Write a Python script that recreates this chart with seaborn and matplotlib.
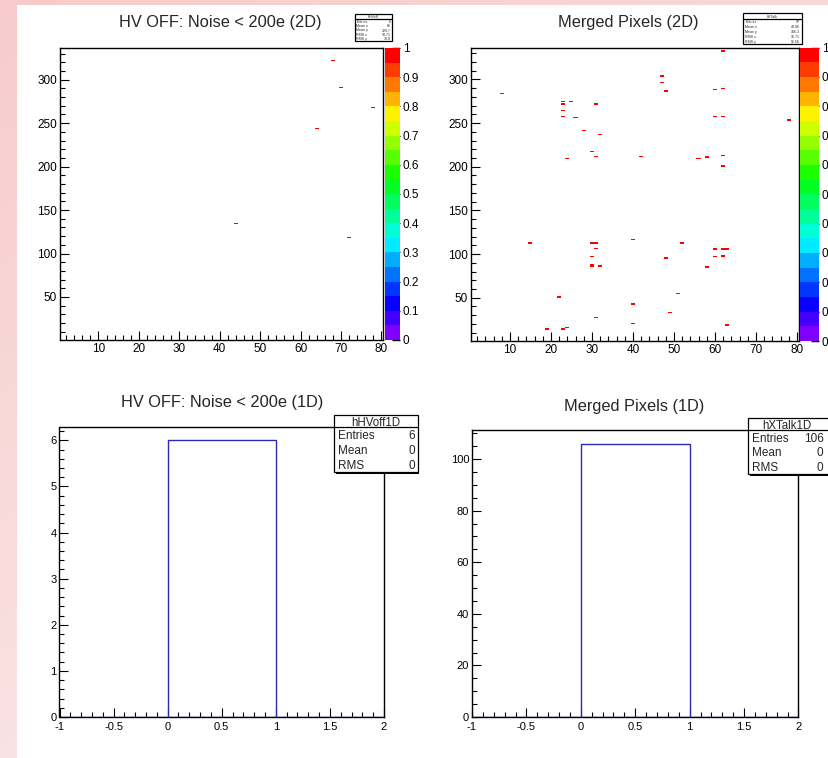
import numpy as np
import matplotlib
matplotlib.use("Agg")
import matplotlib.pyplot as plt
from matplotlib.colors import ListedColormap, hsv_to_rgb
from matplotlib.patches import Rectangle
from matplotlib.ticker import MultipleLocator, FuncFormatter
import seaborn as sns

# ---------------------------------------------------------------- data
# Sensor matrix: 80 columns x 336 rows
N_COLS = 80
N_ROWS = 336

# HV OFF: pixels with noise < 200 e
hv_cols = [68, 70, 78, 64, 44, 72]
hv_rows = [322, 291, 268, 244, 135, 118]

# Merged pixels found by the cross-talk scan
xtalk_cols = [
    8, 23, 25, 23, 23, 31, 31, 23, 23, 23, 23, 26, 26,
    28, 31, 32, 30, 31, 24, 24, 40, 42,
    15, 15, 30, 30, 31, 31, 31, 30, 30, 30, 30, 30, 32, 32,
    22, 22, 40, 40, 31, 40, 19, 19, 23, 23, 24,
    62, 62, 47, 47, 47, 47, 62, 48, 48, 60, 62, 62,
    60, 60, 62, 62, 78, 78, 56, 56, 58, 58, 58, 62, 62, 62, 40,
    52, 52, 60, 60, 62, 62, 63, 63, 52, 60, 60, 62, 62, 48, 48,
    58, 58, 62, 51, 51, 49, 63, 63,
]
xtalk_rows = [
    284, 275, 275, 271, 272, 271, 272, 264, 265, 257, 258, 256, 257,
    241, 234, 237, 217, 212, 209, 210, 289, 212,
    112, 113, 112, 113, 112, 113, 106, 97, 99, 86, 87, 88, 86, 87,
    50, 51, 42, 43, 27, 21, 14, 15, 14, 15, 16,
    332, 333, 303, 304, 296, 297, 297, 286, 287, 288, 289, 290,
    257, 258, 257, 258, 253, 254, 209, 210, 210, 211, 212, 213, 200, 201, 117,
    112, 113, 105, 106, 105, 106, 105, 106, 99, 97, 99, 97, 98, 95, 96,
    85, 86, 84, 55, 36, 33, 18, 19,
]

# 1D summary histograms: every flagged pixel is filled at x = 0
fill_value = [0.0]
hv_1d_entries = [6]
xtalk_1d_entries = [106]
bins_1d = [-1, 0, 1, 2]

colorbar_ticks = [0, 0.1, 0.2, 0.3, 0.4, 0.5, 0.6, 0.7, 0.8, 0.9, 1]

# ---------------------------------------------------------------- style
W, H, DPI = 829, 758, 100
sns.set_style("ticks")
plt.rcParams["font.family"] = ["Liberation Sans", "DejaVu Sans"]
plt.rcParams["axes.linewidth"] = 1.0

fig = plt.figure(figsize=(W / DPI, H / DPI), dpi=DPI)


def px_axes(x0, y0, x1, y1, **kw):
    """Axes placed by pixel box (left, top, right, bottom)."""
    return fig.add_axes([x0 / W, 1 - y1 / H, (x1 - x0) / W, (y1 - y0) / H], **kw)


# canvas background: soft pink border around the white drawing area
bg = fig.add_axes([0, 0, 1, 1], zorder=-10)
xx, yy = np.meshgrid(np.linspace(0, 1, W), np.linspace(0, 1, H))
a = np.clip(0.25 * xx + 0.45 * yy, 0, 1)[..., None]
pink = np.array([247, 203, 203]) / 255.0
bg.imshow(pink[None, None, :] * (1 - a) + a, extent=[0, W, H, 0], aspect="auto")
bg.add_patch(Rectangle((17, 5), W - 17, H - 5, facecolor="white", edgecolor="none"))
bg.set_xlim(0, W)
bg.set_ylim(H, 0)
bg.axis("off")

# overlay for statistics boxes
ov = fig.add_axes([0, 0, 1, 1], zorder=10)
ov.set_xlim(0, W)
ov.set_ylim(H, 0)
ov.axis("off")

# 20-level rainbow palette (violet -> red)
hues = 0.75 * (1 - np.arange(20) / 19)
palette = ListedColormap(hsv_to_rgb(np.stack([hues, np.ones(20), np.ones(20)], axis=1)))

fmt = FuncFormatter(lambda v, _: f"{v:g}")
hist_blue = "#2a2ab4"


def style_axes(ax, labelsize, xpad=2):
    for s in ax.spines.values():
        s.set_visible(True)
        s.set_color("black")
        s.set_linewidth(1.0)
    ax.tick_params(which="both", direction="in", top=False, right=False,
                   colors="black", labelsize=labelsize, width=0.8, pad=2)
    ax.tick_params(axis="x", pad=xpad)
    ax.tick_params(which="major", length=6.5)
    ax.tick_params(which="minor", length=3.6)
    ax.xaxis.set_major_formatter(fmt)
    ax.yaxis.set_major_formatter(fmt)
    ax.set_xlabel("")
    ax.set_ylabel("")


def stats_box(x0, y0, x1, y1, header_h, name, rows, fs, shadow=1.5, name_x=None,
              name_fs=None):
    ov.add_patch(Rectangle((x0 + shadow, y0 + shadow), x1 - x0, y1 - y0,
                           facecolor="black", edgecolor="none"))
    ov.add_patch(Rectangle((x0, y0), x1 - x0, y1 - y0, facecolor="white",
                           edgecolor="black", linewidth=0.9))
    nx = (x0 + x1) / 2 if name_x is None else name_x
    ov.text(nx, y0 + header_h / 2 + 0.5, name, ha="center", va="center_baseline",
            fontsize=name_fs or fs)
    ov.plot([x0, x1], [y0 + header_h, y0 + header_h], color="black", lw=0.9)
    rh = (y1 - y0 - header_h) / len(rows)
    pad = (x1 - x0) * 0.04
    for i, (k, v) in enumerate(rows):
        yc = y0 + header_h + rh * (i + 0.5)
        ov.text(x0 + pad, yc, k, ha="left", va="center_baseline", fontsize=fs)
        ov.text(min(x1, W - 2) - pad, yc, v, ha="right", va="center_baseline",
                fontsize=fs)


def stats_2d(cols, rows):
    c = np.asarray(cols, float)
    r = np.asarray(rows, float)
    return [("Entries", f"{len(c)}"), ("Mean x", f"{c.mean():.4g}"),
            ("Mean y", f"{r.mean():.4g}"), ("RMS x", f"{c.std():.4g}"),
            ("RMS y", f"{r.std():.4g}")]


def panel_2d(box, cbox, cols, rows):
    ax = px_axes(*box)
    cax = px_axes(*cbox)
    sns.histplot(x=cols, y=rows,
                 bins=[np.arange(0.5, N_COLS + 1), np.arange(0.5, N_ROWS + 1)],
                 cmap=palette, vmin=0, vmax=1, cbar=True, cbar_ax=cax, ax=ax,
                 antialiased=True)
    ax.set_xlim(0.5, N_COLS + 0.5)
    ax.set_ylim(0.5, N_ROWS + 0.5)
    ax.xaxis.set_major_locator(MultipleLocator(10))
    ax.xaxis.set_minor_locator(MultipleLocator(2))
    ax.yaxis.set_major_locator(MultipleLocator(50))
    ax.yaxis.set_minor_locator(MultipleLocator(10))
    style_axes(ax, 8.5)
    cb = ax.collections[0].colorbar
    cb.outline.set_visible(False)
    cax.set_yticks(colorbar_ticks)
    cax.yaxis.set_major_formatter(fmt)
    cax.yaxis.set_minor_locator(plt.NullLocator())
    cax.tick_params(axis="y", direction="in", length=6, width=1, colors="black",
                    labelsize=8.5, right=True, left=False, labelright=True, pad=2)
    return ax


def panel_1d(box, entries, ymajor, yminor):
    ax = px_axes(*box)
    sns.histplot(x=fill_value, weights=entries, bins=bins_1d, element="bars",
                 fill=False, color=hist_blue, linewidth=1.0, ax=ax)
    ax.set_xlim(bins_1d[0], bins_1d[-1])
    ax.set_ylim(0, entries[0] * 1.05)
    ax.xaxis.set_major_locator(MultipleLocator(0.5))
    ax.xaxis.set_minor_locator(MultipleLocator(0.1))
    ax.yaxis.set_major_locator(MultipleLocator(ymajor))
    ax.yaxis.set_minor_locator(MultipleLocator(yminor))
    style_axes(ax, 8, xpad=3.5)
    # the "0" at the origin sits just above the x axis
    ax.yaxis.get_major_ticks()[0].label1.set_verticalalignment("bottom")
    return ax


# ---------------------------------------------------------------- panels
panel_2d((60, 48, 383.5, 340), (385, 48, 400, 340), hv_cols, hv_rows)
panel_2d((471, 47.5, 799, 341), (800, 47.5, 819, 341), xtalk_cols, xtalk_rows)
panel_1d((59.5, 426.5, 384, 717), hv_1d_entries, 1, 0.2)
panel_1d((472, 430, 798.5, 717), xtalk_1d_entries, 20, 5)

title_kw = dict(ha="center", va="center", fontsize=11.8)
fig.text(220 / W, 1 - 22 / H, "HV OFF: Noise < 200e (2D)", **title_kw)
fig.text(628 / W, 1 - 22 / H, "Merged Pixels (2D)", **title_kw)
fig.text(222 / W, 1 - 402 / H, "HV OFF: Noise < 200e (1D)", **title_kw)
fig.text(634 / W, 1 - 406 / H, "Merged Pixels (1D)", **title_kw)

# statistics boxes
stats_box(355, 14, 392, 41, 5, "hHVoff", stats_2d(hv_cols, hv_rows), 2.6, shadow=1)
stats_box(743, 13, 802, 44, 5.5, "hXTalk", stats_2d(xtalk_cols, xtalk_rows), 2.6, shadow=1)


def stats_1d(entries):
    mean = float(np.mean(fill_value))
    rms = float(np.std(fill_value))
    return [("Entries", f"{entries[0]}"), ("Mean", f"{mean:g}"), ("RMS", f"{rms:g}")]


stats_box(334.5, 414.5, 418, 472, 12.5, "hHVoff1D", stats_1d(hv_1d_entries), 8.5,
          name_fs=8.3)
stats_box(748.5, 417.5, 833, 474, 12.5, "hXTalk1D", stats_1d(xtalk_1d_entries), 8.5,
          name_x=787, name_fs=8.3)

fig.savefig("out.png", dpi=DPI)
